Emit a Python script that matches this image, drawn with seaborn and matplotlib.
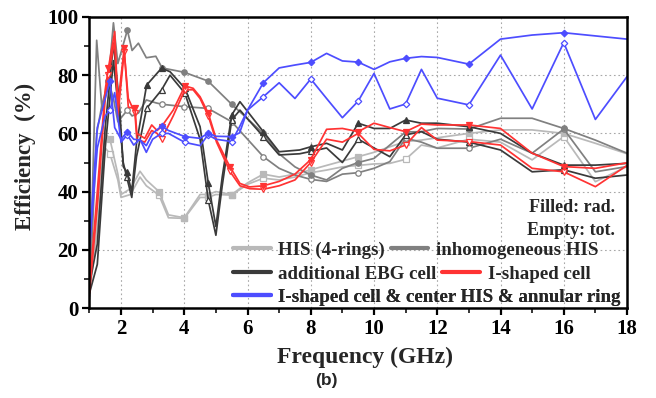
import matplotlib
matplotlib.use("Agg")
import matplotlib.pyplot as plt
import seaborn as sns
from matplotlib.lines import Line2D
from matplotlib.ticker import MultipleLocator

# ---- HIS (4-rings) ----
f_his = [1.0, 1.25, 1.5, 1.65, 1.9, 2.0, 2.3, 2.6, 2.8, 3.2, 3.5, 4.0, 4.5, 4.75, 5.0, 5.5, 6.0,
         6.5, 7.0, 7.5, 8.0, 8.5, 9.0, 9.5, 10.0, 10.5, 11.0, 11.5, 12.0, 13.0, 14.0, 15.0, 16.0, 17.0, 18.0]
his_rad = [5, 35, 60, 58, 46, 39, 41, 47, 44, 40, 32, 31, 39, 39, 40, 39, 43,
           46, 45, 46, 47.5, 49, 50.5, 52, 53.5, 55.4, 57.2, 57.7, 58.5, 60, 61.2, 61.2, 60, 56.6, 53]
his_tot = [4, 28, 55, 53, 44, 38, 39, 45, 42, 38.8, 31, 30.8, 38, 38, 39, 38.8, 42.5,
           44.6, 44, 45, 46.5, 47.4, 48.5, 49, 49.5, 49.7, 51.1, 56, 55, 58, 57, 50.9, 58.9, 43.4, 48.6]
his_marks = [3, 9, 11, 13, 15, 17, 20, 23, 26, 29, 32]

# ---- inhomogeneous HIS ----
f_inh = [1.0, 1.23, 1.4, 1.6, 1.76, 1.9, 2.2, 2.35, 2.55, 2.8, 3.1, 3.3, 4.0, 4.75, 5.5, 6.5, 7.0,
         7.5, 8.0, 8.5, 9.0, 9.5, 10.0, 10.5, 11.0, 11.5, 12.0, 13.0, 14.0, 15.0, 16.0, 17.0, 18.0]
inh_rad = [4, 92, 68, 78, 98, 84, 95.5, 88.5, 91, 86, 86.5, 82.5, 81, 78, 70, 60, 53,
           48.5, 45.7, 44, 48, 50, 51.4, 56, 60.5, 60.6, 61.7, 61.5, 65.2, 65.2, 61.7, 57.7, 53.2]
inh_tot = [3, 60, 70, 78, 72, 64, 68, 66, 67, 71.5, 70.5, 70, 69.2, 68.6, 64, 52, 48,
           45.7, 44.2, 43.5, 46, 46.5, 48, 50.3, 58.3, 57, 54.9, 54.9, 58, 53.2, 61.5, 46.8, 48.6]
inh_marks = [3, 6, 11, 12, 13, 14, 15, 18, 21, 24, 27, 30]

# ---- additional EBG cell ----
f_ebg = [1.0, 1.25, 1.5, 1.76, 1.95, 2.07, 2.18, 2.34, 2.49, 2.81, 3.28, 3.55, 4.02, 4.5, 4.76, 5.0,
         5.2, 5.5, 5.76, 6.5, 7.0, 7.65, 8.0, 8.5, 9.0, 9.5, 10.0, 10.5, 11.0, 11.5, 12.0, 13.0,
         14.0, 15.0, 16.0, 17.0, 18.0]
ebg_rad = [8, 22, 62, 91, 70, 48.6, 46.8, 40, 56.6, 76.6, 82.4, 81.2, 75.5, 62.3, 42.8, 28,
           45, 66.3, 70.9, 60.6, 53.7, 54.3, 55.4, 56.6, 54.3, 63.5, 61.7, 61.7, 64.6, 63.5, 63.5, 62.3,
           60, 53.2, 49.1, 49.1, 49.7]
ebg_tot = [5, 15, 55, 85, 65, 50, 45, 38, 52, 68.6, 74.9, 80, 73.8, 58, 37, 25,
           42, 64.6, 68, 58.9, 52.6, 53, 53.8, 55, 50, 58, 55, 52, 59.5, 60.6, 58, 57,
           54.3, 46.8, 47.5, 44.6, 45.7]
ebg_marks = [6, 9, 10, 12, 14, 17, 19, 22, 25, 28, 31, 34]

# ---- I-shaped cell ----
f_ish = [1.0, 1.25, 1.5, 1.6, 1.8, 1.9, 2.1, 2.23, 2.44, 2.5, 2.75, 2.97, 3.14, 3.28, 3.65, 4.02,
         4.28, 4.5, 4.76, 5.02, 5.44, 5.76, 6.07, 6.5, 7.0, 7.5, 8.0, 8.5, 9.0, 9.5, 10.0, 10.5,
         11.0, 11.5, 12.0, 13.0, 14.0, 15.0, 16.0, 17.0, 18.0]
ish_rad = [7, 40, 75, 82.4, 95, 70, 89.2, 69, 68.6, 60, 58.3, 62.9, 61, 62.3, 68, 76.3,
           75.5, 72.6, 66.9, 57.7, 48.6, 42.8, 41.6, 42, 43.5, 46, 51, 61.4, 61.7, 60.6, 63.5, 62,
           60.6, 63.2, 62.9, 62.9, 61.7, 53.2, 48.6, 48, 49.9]
ish_tot = [5, 35, 72, 80, 92, 66, 88, 72, 67, 58, 57, 61, 60, 58, 66, 75,
           75, 72, 66, 57, 47, 42, 41, 40.8, 42, 44, 50, 58, 57, 60, 54.5, 54,
           56, 62, 57.7, 57.2, 56, 48, 46.8, 41.7, 49]
ish_marks = [3, 6, 8, 13, 15, 18, 20, 23, 26, 29, 32, 35, 38]

# ---- I-shaped cell & center HIS & annular ring ----
f_ring = [1.0, 1.25, 1.5, 1.65, 1.8, 2.0, 2.2, 2.4, 2.6, 2.8, 3.0, 3.28, 3.5, 4.02, 4.5, 4.75,
          5.0, 5.5, 5.75, 6.0, 6.5, 7.0, 7.5, 8.0, 8.5, 9.0, 9.5, 10.0, 10.5, 11.0, 11.5, 12.0,
          13.0, 14.0, 15.0, 16.0, 17.0, 18.0]
ring_rad = [22, 62, 72, 78, 62, 58, 60.6, 58, 57.7, 55.8, 60, 62.5, 61, 58.9, 58.3, 60.1,
            59, 58.9, 60.2, 68, 77.4, 82.5, 83.5, 84.4, 87.5, 84.9, 84.5, 82, 84.6, 85.8, 86.4, 86.1,
            83.8, 92.4, 93.8, 94.6, 93.5, 92.4]
ring_tot = [20, 55, 66, 68, 74, 57, 59.5, 56, 58, 53.5, 58, 60, 60, 56.9, 55.8, 59.5,
            58, 57.2, 62.3, 68, 72.6, 77.4, 72, 78.7, 72, 65.4, 71.1, 80.6, 68.4, 70.1, 82, 72.1,
            69.8, 86.9, 68.4, 91.2, 64.8, 79.5]
ring_marks = [3, 6, 11, 13, 15, 17, 20, 23, 26, 29, 32, 35]

labels = ["HIS (4-rings)", "inhomogeneous HIS", "additional EBG cell", "I-shaped cell",
          "I-shaped cell & center HIS & annular ring"]
colors = ["#b9b9b9", "#808080", "#3a3a3a", "#ff3333", "#4d4dff"]
markers = ["s", "o", "^", "v", "D"]

sns.set_theme(style="ticks")
plt.rcParams["font.family"] = ["Liberation Serif", "DejaVu Serif"]
plt.rcParams["font.weight"] = "bold"
plt.rcParams["axes.labelweight"] = "bold"

fig = plt.figure(figsize=(6.56, 3.98), dpi=100)
ax = fig.add_axes([89.4 / 656, 1 - 308 / 398, 537.6 / 656, 291 / 398])

series = [
    (f_his, his_rad, his_tot, his_marks),
    (f_inh, inh_rad, inh_tot, inh_marks),
    (f_ebg, ebg_rad, ebg_tot, ebg_marks),
    (f_ish, ish_rad, ish_tot, ish_marks),
    (f_ring, ring_rad, ring_tot, ring_marks),
]

for (freq, rad, tot, marks), color, mk in zip(series, colors, markers):
    msize = 3.3 if mk == "D" else 3.9
    for vals, face in ((tot, "white"), (rad, color)):
        sns.lineplot(x=freq, y=vals, ax=ax, color=color, lw=1.25, marker=mk,
                     markevery=marks, markersize=msize, markerfacecolor=face,
                     markeredgecolor=color, markeredgewidth=0.9,
                     legend=False, sort=False, estimator=None)

ax.set_xlim(1, 18)
ax.set_ylim(0, 100)
ax.xaxis.set_major_locator(MultipleLocator(2))
ax.xaxis.set_minor_locator(MultipleLocator(1))
ax.yaxis.set_major_locator(MultipleLocator(20))
ax.yaxis.set_minor_locator(MultipleLocator(10))
ax.set_axisbelow(True)
ax.grid(which="major", ls=(0, (1.5, 2.5)), color="#a8a8a8", lw=0.8)
for sp in ax.spines.values():
    sp.set_linewidth(1.8)
    sp.set_color("black")
ax.tick_params(which="major", direction="out", length=5, width=1.6, labelsize=15,
               pad=3, colors="black")
ax.tick_params(which="minor", direction="out", length=3.5, width=1.3)
ax.set_xlabel("")
ax.set_ylabel("")

fig.text(0.556, 0.103, "Frequency (GHz)", ha="center", va="center", fontsize=17,
         fontweight="bold")
fig.text(0.038, 0.606, "Efficiency  (%)", ha="center", va="center", rotation=90,
         fontsize=16.5, fontweight="bold")

# legend rows, each laid out on its own line
rows = [([0, 1], 0.199), ([2, 3], 0.117), ([4], 0.038)]
for idx, ypos in rows:
    handles = [Line2D([], [], color=colors[i], lw=3) for i in idx]
    leg = ax.legend(handles, [labels[i] for i in idx], ncol=len(idx), loc="center left",
                    bbox_to_anchor=(0.267, ypos), frameon=False, fontsize=13.6,
                    handlelength=2.0, handletextpad=0.4, columnspacing=0.3,
                    borderpad=0, borderaxespad=0)
    ax.add_artist(leg)

ax.text(0.978, 0.344, "Filled: rad.", transform=ax.transAxes, ha="right", va="center",
        fontsize=13, fontweight="bold")
ax.text(0.978, 0.268, "Empty: tot.", transform=ax.transAxes, ha="right", va="center",
        fontsize=13, fontweight="bold")

fig.text(326 / 656, 1 - 380 / 398, "(b)", ha="center", va="center", fontsize=12.5,
         fontweight="bold", family=["Liberation Sans", "DejaVu Sans"])

fig.savefig("out.png", dpi=100)
